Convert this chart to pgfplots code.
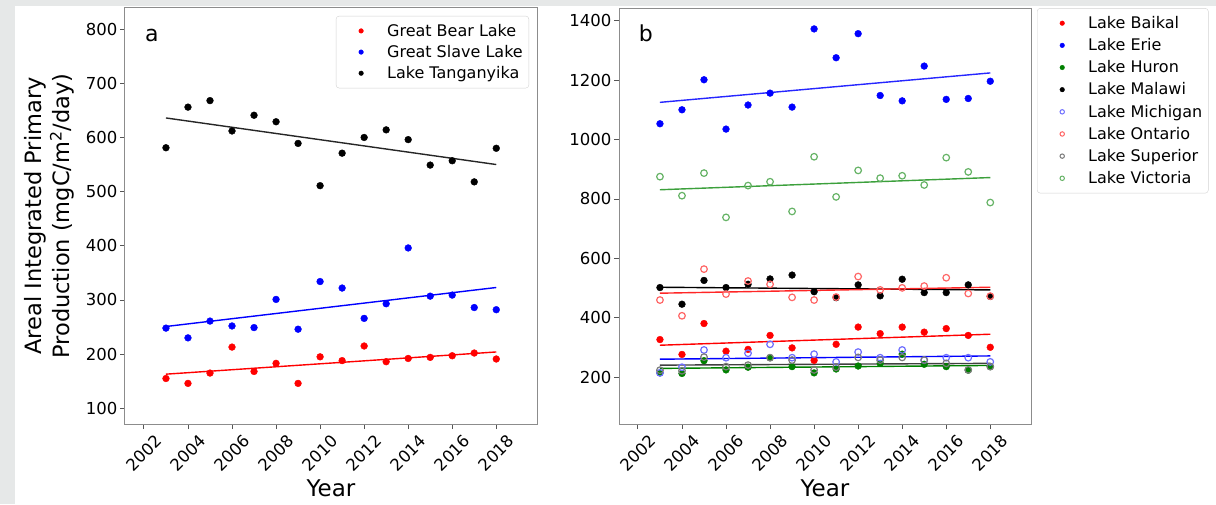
\documentclass[border=0pt]{standalone}
\usepackage{fontspec}
\setmainfont{DejaVu Sans}
\usepackage{pgfplots}
\pgfplotsset{compat=1.18}

\definecolor{framegray}{HTML}{8C8C8C}
\definecolor{tickgray}{HTML}{555555}
\definecolor{bggray}{HTML}{E6E8E8}
\definecolor{mich}{HTML}{6E6EFF}
\definecolor{onta}{HTML}{FF6666}
\definecolor{supe}{HTML}{7A7A7A}
\definecolor{vict}{HTML}{66B366}
\definecolor{victline}{HTML}{3CA03C}
\definecolor{huron}{HTML}{008000}

\pgfplotsset{
  filled/.style={only marks, mark=*, mark size=3.4pt, color=#1,
    mark options={draw=#1, fill=#1},
    legend image post style={mark size=2.3pt}},
  open/.style={only marks, mark=o, mark size=3.3pt, color=#1,
    mark options={draw=#1, line width=1.2pt},
    legend image post style={mark size=2.2pt, mark options={draw=#1, line width=1pt}}},
  trend/.style={no marks, line width=1.4pt, color=#1, forget plot},
  common/.style={
    scale only axis,
    width=412pt,
    xmin=2001.14, xmax=2019.85,
    xtick={2002,2004,...,2018},
    axis line style={framegray, line width=1pt},
    tick align=outside,
    tick pos=left,
    major tick length=5pt,
    tick style={tickgray, line width=0.9pt},
    ticklabel style={font=\fontsize{16.5}{18}\selectfont},
    xticklabel style={yshift=-24pt, rotate=45, anchor=center},
    yticklabel style={inner xsep=2.5pt},
    /pgf/number format/assume math mode=true,
    /pgf/number format/1000 sep={},
    scaled ticks=false,
    every axis x label/.style={at={(rel axis cs:0.5,0)}, yshift=-64pt, anchor=center, font=\fontsize{23}{27}\selectfont},
    xlabel={Year},
    legend cell align=left,
    legend image code/.code={%
      \path[draw=none, fill=none] (0pt,-5pt) rectangle (45pt,5pt);
      \draw[mark repeat=2,mark phase=2,##1] plot coordinates {(0pt,0pt) (21pt,0pt) (42pt,0pt)};},
    legend style={draw=gray!35, rounded corners=3pt, fill=white,
      font=\fontsize{16}{19}\selectfont, inner xsep=4pt, inner ysep=6pt, row sep=4.5pt},
  }
}

\begin{document}
\begin{tikzpicture}
\useasboundingbox (0pt,0pt) rectangle (1216pt,504pt);
\fill[bggray] (0pt,0pt) rectangle (15pt,504pt);
\fill[bggray] (0pt,498pt) rectangle (1216pt,504pt);

% ---------------- panel a ----------------
\begin{axis}[common,
  at={(125pt,80pt)}, anchor=south west,
  height=416pt,
  ymin=71, ymax=839,
  ytick={100,200,...,800},
  every axis y label/.style={at={(rel axis cs:0,0.5)}, xshift=-76pt, rotate=90, anchor=center, align=center, font=\fontsize{22.5}{28}\selectfont},
  ylabel={Areal Integrated Primary\\Production (mgC/m\textsuperscript{2}/day)},
  legend style={at={(0.9806,0.981)}, anchor=north east, row sep=3.5pt},
]
\addplot[filled=red] coordinates {
 (2003,155) (2004,146) (2005,165) (2006,213) (2007,168) (2008,183) (2009,146) (2010,195)
 (2011,188) (2012,215) (2013,186) (2014,192) (2015,194) (2016,197) (2017,202) (2018,191)};
\addlegendentry{Great Bear Lake}
\addplot[filled=blue] coordinates {
 (2003,248) (2004,230) (2005,261) (2006,252) (2007,249) (2008,301) (2009,246) (2010,334)
 (2011,322) (2012,266) (2013,293) (2014,396) (2015,307) (2016,309) (2017,286) (2018,282)};
\addlegendentry{Great Slave Lake}
\addplot[filled=black] coordinates {
 (2003,581) (2004,656) (2005,668) (2006,612) (2007,641) (2008,629) (2009,589) (2010,511)
 (2011,571) (2012,600) (2013,614) (2014,596) (2015,549) (2016,557) (2017,518) (2018,580)};
\addlegendentry{Lake Tanganyika}
\addplot[trend=red] coordinates {(2003,163) (2018,204)};
\addplot[trend=blue] coordinates {(2003,251) (2018,323)};
\addplot[trend=black!85] coordinates {(2003,636) (2018,550)};
\node[font=\fontsize{22}{26}\selectfont, anchor=center] at (rel axis cs:0.065,0.935) {a};
\end{axis}

% ---------------- panel b ----------------
\begin{axis}[common,
  at={(619pt,80pt)}, anchor=south west,
  height=415pt,
  ymin=43, ymax=1439,
  ytick={200,400,...,1400},
  legend style={at={(1.0146,1.002)}, anchor=north west},
]
\addplot[filled=red] coordinates {
 (2003,327) (2004,277) (2005,381) (2006,288) (2007,294) (2008,341) (2009,299) (2010,257)
 (2011,311) (2012,369) (2013,347) (2014,369) (2015,352) (2016,364) (2017,341) (2018,301)};
\addlegendentry{Lake Baikal}
\addplot[filled=blue] coordinates {
 (2003,1053) (2004,1100) (2005,1201) (2006,1035) (2007,1116) (2008,1156) (2009,1109) (2010,1372)
 (2011,1275) (2012,1356) (2013,1148) (2014,1130) (2015,1247) (2016,1135) (2017,1138) (2018,1196)};
\addlegendentry{Lake Erie}
\addplot[filled=huron] coordinates {
 (2003,215) (2004,213) (2005,256) (2006,225) (2007,234) (2008,266) (2009,236) (2010,215)
 (2011,228) (2012,238) (2013,247) (2014,278) (2015,244) (2016,236) (2017,224) (2018,236)};
\addlegendentry{Lake Huron}
\addplot[filled=black] coordinates {
 (2003,502) (2004,446) (2005,526) (2006,502) (2007,513) (2008,531) (2009,544) (2010,488)
 (2011,468) (2012,511) (2013,474) (2014,530) (2015,485) (2016,485) (2017,511) (2018,472)};
\addlegendentry{Lake Malawi}
\addplot[open=mich] coordinates {
 (2003,215) (2004,234) (2005,292) (2006,266) (2007,281) (2008,311) (2009,266) (2010,278)
 (2011,252) (2012,285) (2013,266) (2014,292) (2015,258) (2016,266) (2017,266) (2018,252)};
\addlegendentry{Lake Michigan}
\addplot[open=onta] coordinates {
 (2003,460) (2004,407) (2005,564) (2006,480) (2007,524) (2008,513) (2009,469) (2010,460)
 (2011,470) (2012,539) (2013,494) (2014,501) (2015,507) (2016,535) (2017,482) (2018,473)};
\addlegendentry{Lake Ontario}
\addplot[open=supe] coordinates {
 (2003,224) (2004,222) (2005,268) (2006,236) (2007,241) (2008,266) (2009,258) (2010,225)
 (2011,234) (2012,267) (2013,258) (2014,267) (2015,258) (2016,247) (2017,225) (2018,236)};
\addlegendentry{Lake Superior}
\addplot[open=vict] coordinates {
 (2003,875) (2004,811) (2005,887) (2006,738) (2007,845) (2008,858) (2009,758) (2010,942)
 (2011,807) (2012,896) (2013,870) (2014,878) (2015,847) (2016,939) (2017,891) (2018,788)};
\addlegendentry{Lake Victoria}
\addplot[trend=red] coordinates {(2003,308) (2018,345)};
\addplot[trend=blue!85] coordinates {(2003,1125) (2018,1224)};
\addplot[trend=huron] coordinates {(2003,230) (2018,240)};
\addplot[trend=black] coordinates {(2003,503) (2018,494)};
\addplot[trend=blue] coordinates {(2003,261) (2018,272)};
\addplot[trend=red!85] coordinates {(2003,483) (2018,503)};
\addplot[trend=black!75] coordinates {(2003,241) (2018,247)};
\addplot[trend=victline] coordinates {(2003,831) (2018,872)};
\node[font=\fontsize{22}{26}\selectfont, anchor=center] at (rel axis cs:0.065,0.941) {b};
\end{axis}
\end{tikzpicture}
\end{document}
